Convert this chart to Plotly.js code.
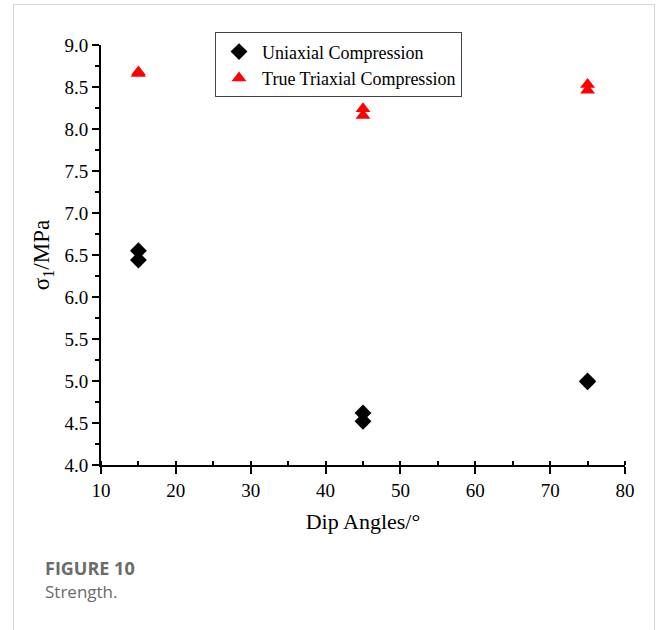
<!DOCTYPE html>
<html>
<head>
<meta charset="utf-8">
<script src="https://cdn.plot.ly/plotly-3.0.1.min.js"></script>
<style>
html,body{margin:0;padding:0;background:#fff;}
#wrap{position:relative;width:657px;height:630px;overflow:hidden;}
#chart{position:absolute;left:0;top:0;width:657px;height:630px;}
#frame{position:absolute;left:13px;top:4px;width:640px;height:700px;border:1px solid #d6d6d6;pointer-events:none;}
</style>
</head>
<body>
<div id="wrap">
<div id="chart"></div>
<div id="frame"></div>
</div>
<script>
// Data
const uniaxialAngles = [15, 15, 45, 45, 75, 75];
const uniaxialStrength = [6.55, 6.44, 4.62, 4.52, 5.00, 4.99];
const triaxialAngles = [15, 15, 45, 45, 75, 75];
const triaxialStrength = [8.68, 8.66, 8.24, 8.16, 8.53, 8.46];
const seriesNames = ["Uniaxial Compression", "True Triaxial Compression"];
const xTickVals = [10, 20, 30, 40, 50, 60, 70, 80];
const yTickVals = [4.0, 4.5, 5.0, 5.5, 6.0, 6.5, 7.0, 7.5, 8.0, 8.5, 9.0];
const xTitle = "Dip Angles/°";
const yTitle = "σ<sub>1</sub>/MPa";
const captionTitle = "FIGURE 10";
const captionText = "Strength.";

const serif = "Liberation Serif, Times New Roman, serif";
const sans = "Open Sans, Noto Sans, sans-serif";

const traces = [
  {
    x: uniaxialAngles, y: uniaxialStrength, name: seriesNames[0],
    type: "scatter", mode: "markers",
    marker: {symbol: "diamond", size: 13, color: "#000000"}
  },
  {
    x: triaxialAngles, y: triaxialStrength, name: seriesNames[1],
    type: "scatter", mode: "markers",
    marker: {symbol: "triangle-up", size: 13, color: "#ff0000"}
  }
];

const layout = {
  width: 657, height: 630,
  margin: {l: 101, r: 32, t: 45, b: 165},
  paper_bgcolor: "rgba(0,0,0,0)",
  plot_bgcolor: "rgba(0,0,0,0)",
  font: {family: serif, color: "#000"},
  showlegend: true,
  legend: {
    x: 0.2176, y: 1.03, xanchor: "left", yanchor: "top",
    bordercolor: "#444", borderwidth: 1, bgcolor: "#fff",
    font: {family: serif, size: 18, color: "#000"},
    tracegroupgap: 0, itemwidth: 36
  },
  xaxis: {
    range: [10, 80], tickvals: xTickVals,
    ticktext: xTickVals.map(v => String(v)),
    showgrid: false, zeroline: false,
    showline: true, linecolor: "#000", linewidth: 2,
    ticks: "outside", ticklen: 7, tickwidth: 2, tickcolor: "#000",
    minor: {dtick: 5, ticks: "inside", ticklen: 4, tickwidth: 2, tickcolor: "#000", showgrid: false},
    tickfont: {family: serif, size: 19, color: "#000"},
    title: {text: xTitle, font: {family: serif, size: 22, color: "#000"}, standoff: 14}
  },
  yaxis: {
    range: [4.0, 9.0], tickvals: yTickVals,
    ticktext: yTickVals.map(v => v.toFixed(1)),
    showgrid: false, zeroline: false,
    showline: true, linecolor: "#000", linewidth: 2,
    ticks: "outside", ticklen: 7, tickwidth: 2, tickcolor: "#000",
    minor: {dtick: 0.25, ticks: "outside", ticklen: 4, tickwidth: 2, tickcolor: "#000", showgrid: false},
    tickfont: {family: serif, size: 19, color: "#000"},
    title: {text: yTitle, font: {family: serif, size: 23, color: "#000"}, standoff: 8}
  },
  annotations: [
    {
      text: "<b>" + captionTitle + "</b>", xref: "paper", yref: "paper",
      x: (43 - 101) / 524, y: (465 - 568) / 420, xanchor: "left", yanchor: "middle",
      showarrow: false, font: {family: sans, size: 18, color: "#6b6b6b"}
    },
    {
      text: captionText, xref: "paper", yref: "paper",
      x: (43 - 101) / 524, y: (465 - 591) / 420, xanchor: "left", yanchor: "middle",
      showarrow: false, font: {family: sans, size: 17, color: "#6b6b6b"}
    }
  ]
};

Plotly.newPlot("chart", traces, layout, {displayModeBar: false, staticPlot: true});
</script>
</body>
</html>
